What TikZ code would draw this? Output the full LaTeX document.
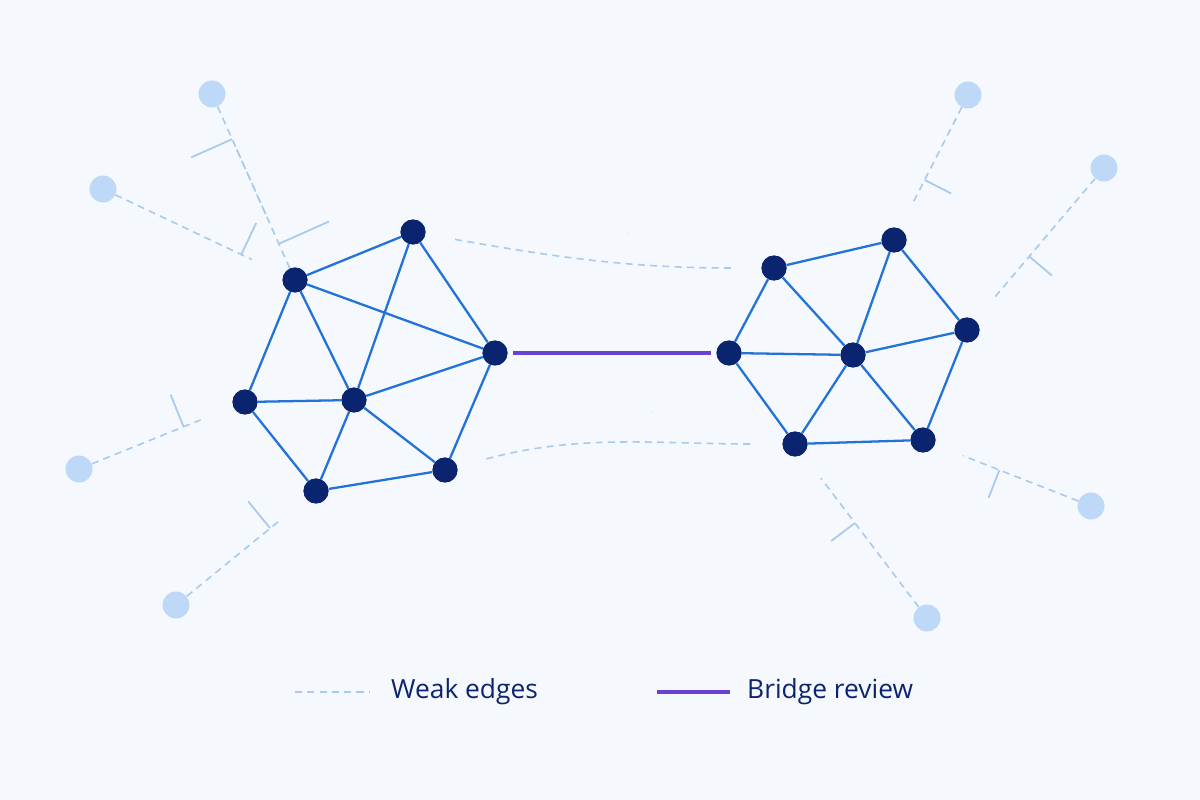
\documentclass[tikz,border=0pt]{standalone}
\usepackage{fontspec}
\setmainfont{Open Sans}
\usetikzlibrary{decorations.markings}
\definecolor{bgc}{HTML}{F5F8FC}
\definecolor{hub}{HTML}{0B2470}
\definecolor{link}{HTML}{2272D8}
\definecolor{faint}{HTML}{BDD9F7}
\definecolor{weak}{HTML}{A8CAEC}
\definecolor{bridgec}{HTML}{6A42D2}
\tikzset{
  core/.style={circle, fill=hub, inner sep=0pt, minimum size=0.5cm},
  leaf/.style={circle, fill=faint, inner sep=0pt, minimum size=0.54cm},
  strong/.style={draw=link, line width=1.3pt},
  weakline/.style={draw=weak, line width=0.9pt, dash pattern=on 4pt off 3pt},
  tick/.style={postaction={decorate, decoration={markings,
      mark=at position #1 with {\draw[weak, line width=1pt, solid] (0,-0.2) -- (0,0.2);}}}},
  tick/.default=0.75,
}
\begin{document}
\begin{tikzpicture}[x=0.02cm, y=-0.02cm]
  \fill[bgc] (0,0) rectangle (1200,800);
  \useasboundingbox (0,0) rectangle (1200,800);
  % left cluster
  \node[core] (L1) at (413,232) {};
  \node[core] (L2) at (295,280) {};
  \node[core] (L3) at (495,353) {};
  \node[core] (L4) at (245,402) {};
  \node[core] (L5) at (354,400) {};
  \node[core] (L6) at (445,470) {};
  \node[core] (L7) at (316,491) {};
  % right cluster
  \node[core] (R1) at (774,268) {};
  \node[core] (R2) at (894,240) {};
  \node[core] (R3) at (967,330) {};
  \node[core] (R4) at (729,353) {};
  \node[core] (R5) at (853,355) {};
  \node[core] (R6) at (795,444) {};
  \node[core] (R7) at (923,440) {};
  % outliers
  \node[leaf] (A1) at (212,94) {};
  \node[leaf] (A2) at (103,189) {};
  \node[leaf] (A3) at (79,469) {};
  \node[leaf] (A4) at (176,605) {};
  \node[leaf] (B1) at (968,95) {};
  \node[leaf] (B2) at (1104,168) {};
  \node[leaf] (B3) at (1091,506) {};
  \node[leaf] (B4) at (927,618) {};

  \begin{scope}[on background layer/.style={}]
  \path (L2) edge[weakline, tick=0.8, shorten >=0.9cm] (A1)
  (A1) edge[weakline, tick=0.85, shorten >=1.1cm] (L2)
  (A2) edge[weakline, tick=0.75, shorten >=0.7cm] (L2)
  (A3) edge[weakline, tick=0.65, shorten >=0.7cm] (L4)
  (A4) edge[weakline, tick=0.7, shorten >=0.7cm] (L7)
  (B1) edge[weakline, tick=0.6, shorten >=0.6cm] (R2)
  (B2) edge[weakline, tick=0.55, shorten >=0.6cm] (R3)
  (B3) edge[weakline, tick=0.55, shorten >=0.6cm] (R7)
  (B4) edge[weakline, tick=0.55, shorten >=0.6cm] (R6)
  (L1) edge[weakline, tick=0.6, shorten <=0.6cm, shorten >=0.6cm, out=-10, in=180] (R1)
  (L6) edge[weakline, tick=0.6, shorten <=0.6cm, shorten >=0.6cm, out=15, in=180] (R6);
  \end{scope}
  \path[strong] (L2) edge (L1) (L1) edge (L3) (L2) edge (L3) (L2) edge (L4)
  (L2) edge (L5) (L1) edge (L5) (L4) edge (L5) (L5) edge (L3) (L4) edge (L7)
  (L7) edge (L5) (L5) edge (L6) (L7) edge (L6) (L6) edge (L3);
  \path[strong] (R1) edge (R2) (R2) edge (R3) (R1) edge (R4) (R1) edge (R5)
  (R2) edge (R5) (R4) edge (R5) (R5) edge (R3) (R4) edge (R6) (R5) edge (R6)
  (R5) edge (R7) (R3) edge (R7) (R6) edge (R7);
  \draw[bridgec, line width=2.6pt, shorten <=0.1cm, shorten >=0.1cm] (L3) -- (R4);
  % legend
  \coordinate (w0) at (295,692); \coordinate (w1) at (370,692);
  \coordinate (b0) at (657,692); \coordinate (b1) at (730,692);
  \draw[weakline] (w0) -- (w1);
  \draw[bridgec, line width=2.2pt] (b0) -- (b1);
  \node[anchor=west, text=hub, font=\fontsize{15}{18}\selectfont] (wl) at (385,692) {Weak edges};
  \node[anchor=west, text=hub, font=\fontsize{15}{18}\selectfont] (bl) at (741,692) {Bridge review};
  % redraw nodes on top
  \foreach \n in {L1,L2,L3,L4,L5,L6,L7,R1,R2,R3,R4,R5,R6,R7}
    \fill[hub] (\n) circle (0.25cm);
\end{tikzpicture}
\end{document}
